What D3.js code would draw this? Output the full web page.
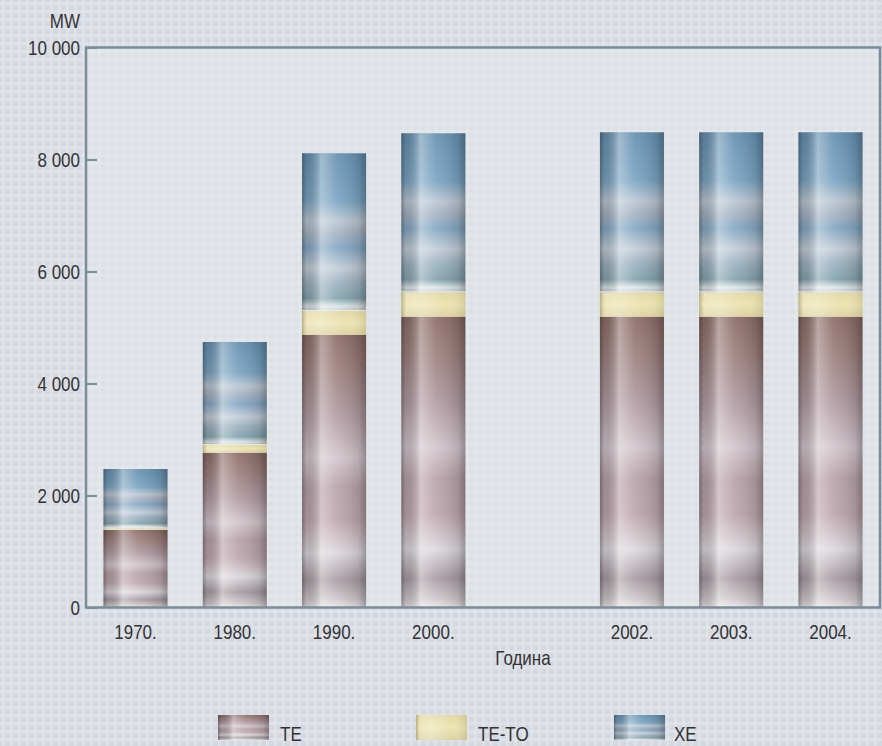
<!DOCTYPE html>
<html><head><meta charset="utf-8">
<script src="https://cdn.jsdelivr.net/npm/d3@7"></script>
<style>
html,body{margin:0;padding:0;background:#d8dce4;}
svg{display:block;}
text{font-family:"Liberation Sans",Arial,sans-serif;fill:#333;}
</style></head>
<body>
<script>
// ---- data ----
const categories = ["1970.", "1980.", "1990.", "2000.", "", "2002.", "2003.", "2004."];
const years = ["1970.", "1980.", "1990.", "2000.", "2002.", "2003.", "2004."];
const te   = [1384, 2764, 4866, 5193, 5193, 5193, 5193];
const teto = [30, 138, 429, 436, 436, 436, 436];
const xe   = [1059, 1839, 2816, 2839, 2857, 2857, 2857];
const seriesNames = ["TE", "TE-TO", "XE"];
const yTicks = [0, 2000, 4000, 6000, 8000, 10000];
const yUnit = "MW";
const xTitle = "Година";

const W = 882, H = 746;
const SX = 0.85; // horizontal condensing of text
const svg = d3.select("body").append("svg").attr("width", W).attr("height", H);
const defs = svg.append("defs");

function gridPattern(id, base, line, op) {
  const p = defs.append("pattern").attr("id", id).attr("patternUnits", "userSpaceOnUse")
    .attr("width", 8).attr("height", 8);
  p.append("rect").attr("width", 8).attr("height", 8).attr("fill", base);
  p.append("rect").attr("x", 2).attr("width", 3).attr("height", 8).attr("fill", line).attr("opacity", op);
  p.append("rect").attr("y", 2).attr("width", 8).attr("height", 3).attr("fill", line).attr("opacity", op);
}
gridPattern("bgOuter", "#d4d8e0", "#e3e6ec", 0.65);
gridPattern("bgInner", "#dde1e6", "#e6e9ec", 0.6);

function lin(id, vertical, stops) {
  const g = defs.append("linearGradient").attr("id", id)
    .attr("x1", 0).attr("y1", 0).attr("x2", vertical ? 0 : 1).attr("y2", vertical ? 1 : 0);
  stops.forEach(s => g.append("stop").attr("offset", s[0]).attr("stop-color", s[1]).attr("stop-opacity", s[2] == null ? 1 : s[2]));
}
lin("teV", true, [[0,"#8c6c68"],[0.12,"#9c7e7c"],[0.3,"#b29ca4"],[0.45,"#d2c6cc"],[0.56,"#b8a2aa"],[0.68,"#bea6ae"],[0.8,"#dcd8dc"],[0.9,"#a89ca2"],[0.97,"#cfc8cc"],[1,"#eae6ea"]]);
lin("xeV", true, [[0,"#6590b0"],[0.3,"#7aa4c2"],[0.43,"#bcc8d4"],[0.5,"#a8b4c4"],[0.6,"#84a8c4"],[0.73,"#c4ced8"],[0.82,"#9cb2c2"],[0.92,"#84a4ae"],[0.97,"#dfe7ea"],[1,"#c4d2da"]]);
lin("ttV", true, [[0,"#e2d8a2"],[0.5,"#ece4b2"],[1,"#dcd3a2"]]);
lin("hShade", false, [[0,"#000",0.36],[0.07,"#000",0.14],[0.3,"#fff",0.38],[0.55,"#fff",0.08],[0.88,"#000",0.12],[1,"#000",0.3]]);
lin("hShadeT", false, [[0,"#5a5020",0.35],[0.08,"#fff",0.2],[0.3,"#fff",0.3],[0.7,"#fff",0.0],[1,"#5a5020",0.15]]);

svg.append("rect").attr("width", W).attr("height", H).attr("fill", "url(#bgOuter)");

const x = d3.scaleBand().domain(categories).range([86, 880]).paddingInner(0.355).paddingOuter(0.176);
const y = d3.scaleLinear().domain([0, 10000]).range([607.5, 47.5]);

svg.append("rect").attr("x", 86).attr("y", 47.5).attr("width", 794).attr("height", 560)
  .attr("fill", "url(#bgInner)");

const stacked = years.map((yr, i) => ({ yr, segs: [
  { k: "te", v0: 0, v1: te[i], fill: "url(#teV)", sh: "url(#hShade)" },
  { k: "teto", v0: te[i], v1: te[i] + teto[i], fill: "url(#ttV)", sh: "url(#hShadeT)" },
  { k: "xe", v0: te[i] + teto[i], v1: te[i] + teto[i] + xe[i], fill: "url(#xeV)", sh: "url(#hShade)" }
]}));
const bars = svg.append("g");
stacked.forEach(d => {
  d.segs.forEach(s => {
    const yy = y(s.v1), hh = y(s.v0) - y(s.v1);
    bars.append("rect").attr("x", x(d.yr)).attr("y", yy).attr("width", x.bandwidth()).attr("height", hh).attr("fill", s.fill);
    bars.append("rect").attr("x", x(d.yr)).attr("y", yy).attr("width", x.bandwidth()).attr("height", hh).attr("fill", s.sh);
  });
  const sep = d.segs[2];
  bars.append("line").attr("x1", x(d.yr)).attr("x2", x(d.yr) + x.bandwidth())
    .attr("y1", y(sep.v0) - 0.5).attr("y2", y(sep.v0) - 0.5).attr("stroke", "#f4f2ea").attr("stroke-width", 1).attr("opacity", 0.8);
});

svg.append("rect").attr("x", 86).attr("y", 47.5).attr("width", 794).attr("height", 560)
  .attr("fill", "none").attr("stroke", "#7b8d99").attr("stroke-width", 2.5);

function label(g, tx, ty, str, anchor) {
  return g.append("text").attr("x", 0).attr("y", 0)
    .attr("transform", `translate(${tx},${ty}) scale(${SX},1)`)
    .attr("text-anchor", anchor || "start").style("font-size", "20px").text(str);
}

const yAxis = d3.axisRight(y).tickValues(yTicks).tickSize(10)
  .tickFormat(d => d3.format(",")(d).replace(/,/g, " "));
const ya = svg.append("g").attr("transform", "translate(87,0)").call(yAxis);
ya.select(".domain").remove();
ya.selectAll(".tick line").attr("stroke", "#7b8d99").attr("stroke-width", 2);
ya.selectAll(".tick text").attr("x", 0).attr("dy", "0.35em")
  .attr("transform", `translate(-7,0) scale(${SX},1)`).attr("text-anchor", "end")
  .style("font-size", "20px").attr("fill", "#333");

label(svg, 80, 27.5, yUnit, "end");

const xAxis = d3.axisBottom(x).tickValues(years).tickSize(0).tickPadding(0);
const xa = svg.append("g").attr("transform", "translate(0,608)").call(xAxis);
xa.select(".domain").remove();
xa.selectAll(".tick text").attr("y", 0).attr("dy", 0)
  .attr("transform", `translate(0,31) scale(${SX},1)`)
  .style("font-size", "20px").attr("fill", "#333");

label(svg, 523, 665, xTitle, "middle");

const legendItems = [
  { name: seriesNames[0], fill: "url(#teV)", sh: "url(#hShade)", x: 218, tx: 280 },
  { name: seriesNames[1], fill: "url(#ttV)", sh: "url(#hShadeT)", x: 416, tx: 478 },
  { name: seriesNames[2], fill: "url(#xeV)", sh: "url(#hShade)", x: 614, tx: 674 }
];
const lg = svg.append("g");
legendItems.forEach(it => {
  lg.append("rect").attr("x", it.x).attr("y", 715).attr("width", 51).attr("height", 25).attr("fill", it.fill);
  lg.append("rect").attr("x", it.x).attr("y", 715).attr("width", 51).attr("height", 25).attr("fill", it.sh);
  label(lg, it.tx, 741, it.name, "start");
});
</script>
</body></html>
